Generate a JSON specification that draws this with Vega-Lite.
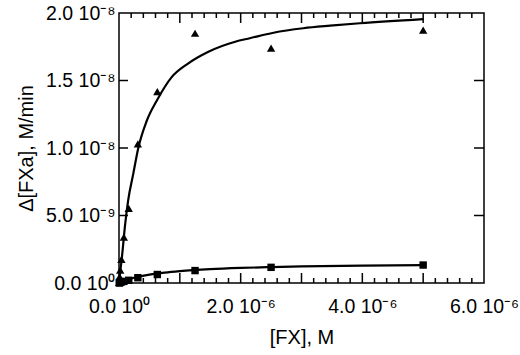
{
  "$schema": "https://vega.github.io/schema/vega-lite/v6.json",
  "autosize": "none",
  "width": 365,
  "height": 270,
  "padding": {"left": 119, "top": 13, "right": 36, "bottom": 72},
  "background": "white",
  "config": {
    "view": {"stroke": "black", "strokeWidth": 1.5},
    "axis": {
      "labelFont": "Liberation Sans", "labelFontSize": 19.5, "labelColor": "black",
      "titleFont": "Liberation Sans", "titleFontSize": 20, "titleFontWeight": "normal", "titleColor": "black",
      "grid": false, "labelOverlap": false, "labelFlush": false, "domain": false, "ticks": false, "tickSize": 0
    }
  },
  "datasets": {
    "x_minor_ticks": [
      {"fx": 0.2}, {"fx": 0.4}, {"fx": 0.6}, {"fx": 0.8}, {"fx": 1.2}, {"fx": 1.4}, {"fx": 1.6}, {"fx": 1.8},
      {"fx": 2.2}, {"fx": 2.4}, {"fx": 2.6}, {"fx": 2.8}, {"fx": 3.2}, {"fx": 3.4}, {"fx": 3.6}, {"fx": 3.8},
      {"fx": 4.2}, {"fx": 4.4}, {"fx": 4.6}, {"fx": 4.8}, {"fx": 5.2}, {"fx": 5.4}, {"fx": 5.6}, {"fx": 5.8}
    ],
    "x_major_ticks": [{"fx": 1}, {"fx": 2}, {"fx": 3}, {"fx": 4}, {"fx": 5}],
    "y_major_ticks": [{"rate": 0.5}, {"rate": 1}, {"rate": 1.5}],
    "tri_pts": [
      {"fx": 0.005, "rate": 0.005},
      {"fx": 0.01, "rate": 0.047},
      {"fx": 0.02, "rate": 0.096},
      {"fx": 0.04, "rate": 0.175},
      {"fx": 0.08, "rate": 0.34},
      {"fx": 0.16, "rate": 0.553},
      {"fx": 0.31, "rate": 1.03},
      {"fx": 0.63, "rate": 1.417},
      {"fx": 1.25, "rate": 1.85},
      {"fx": 2.5, "rate": 1.739},
      {"fx": 5.0, "rate": 1.874}
    ],
    "sq_pts": [
      {"fx": 0.005, "rate": 0.0},
      {"fx": 0.01, "rate": 0.003},
      {"fx": 0.02, "rate": 0.005},
      {"fx": 0.04, "rate": 0.008},
      {"fx": 0.08, "rate": 0.012},
      {"fx": 0.16, "rate": 0.02},
      {"fx": 0.31, "rate": 0.039},
      {"fx": 0.63, "rate": 0.063},
      {"fx": 1.25, "rate": 0.092},
      {"fx": 2.5, "rate": 0.116},
      {"fx": 5.0, "rate": 0.133}
    ],
    "tri_fit": [
      {"fx": 0, "rate": 0},
      {"fx": 0.005, "rate": 0.022},
      {"fx": 0.05, "rate": 0.2},
      {"fx": 0.1, "rate": 0.43},
      {"fx": 0.15, "rate": 0.61},
      {"fx": 0.235, "rate": 0.81},
      {"fx": 0.317, "rate": 1.0},
      {"fx": 0.455, "rate": 1.2},
      {"fx": 0.62, "rate": 1.35},
      {"fx": 0.866, "rate": 1.525},
      {"fx": 1.14, "rate": 1.627},
      {"fx": 1.47, "rate": 1.713},
      {"fx": 1.91, "rate": 1.787},
      {"fx": 2.15, "rate": 1.813},
      {"fx": 2.54, "rate": 1.854},
      {"fx": 3.03, "rate": 1.887},
      {"fx": 3.47, "rate": 1.906},
      {"fx": 3.96, "rate": 1.924},
      {"fx": 5.0, "rate": 1.955}
    ],
    "sq_fit": [
      {"fx": 0, "rate": 0},
      {"fx": 0.05, "rate": 0.0097},
      {"fx": 0.1, "rate": 0.0183},
      {"fx": 0.2, "rate": 0.0326},
      {"fx": 0.3, "rate": 0.0442},
      {"fx": 0.5, "rate": 0.0617},
      {"fx": 0.75, "rate": 0.077},
      {"fx": 1.0, "rate": 0.0879},
      {"fx": 1.5, "rate": 0.1024},
      {"fx": 2.0, "rate": 0.1115},
      {"fx": 2.5, "rate": 0.1179},
      {"fx": 3.0, "rate": 0.1225},
      {"fx": 4.0, "rate": 0.1289},
      {"fx": 5.0, "rate": 0.133}
    ]
  },
  "layer": [
    {
      "data": {"name": "tri_fit"},
      "mark": {"type": "line", "color": "black", "strokeWidth": 2.2, "interpolate": "monotone"},
      "encoding": {
        "x": {"field": "fx", "type": "quantitative", "scale": {"domain": [0, 6], "nice": false, "zero": false},
          "axis": {"orient": "bottom", "values": [0, 2, 4, 6], "labelPadding": 14,
            "labelExpr": "datum.value == 0 ? '0.0 10⁰' : format(datum.value, '.1f') + ' 10⁻⁶'",
            "title": "[FX], M", "titlePadding": 12}},
        "y": {"field": "rate", "type": "quantitative", "scale": {"domain": [0, 2], "nice": false, "zero": false},
          "axis": {"orient": "left", "values": [0, 0.5, 1, 1.5, 2], "labelPadding": 4,
            "labelExpr": "datum.value == 0 ? '0.0 10⁰' : (datum.value < 1 ? format(datum.value*10, '.1f') + ' 10⁻⁹' : format(datum.value, '.1f') + ' 10⁻⁸')",
            "title": "Δ[FXa], M/min", "titlePadding": 9}}
      }
    },
    {
      "data": {"name": "tri_pts"},
      "mark": {"type": "point", "shape": "triangle-up", "filled": true, "color": "black", "opacity": 1, "size": 70},
      "encoding": {
        "x": {"field": "fx", "type": "quantitative"},
        "y": {"field": "rate", "type": "quantitative"}
      }
    },
    {
      "data": {"name": "sq_fit"},
      "mark": {"type": "line", "color": "black", "strokeWidth": 2.2, "interpolate": "monotone"},
      "encoding": {
        "x": {"field": "fx", "type": "quantitative"},
        "y": {"field": "rate", "type": "quantitative"}
      }
    },
    {
      "data": {"name": "sq_pts"},
      "mark": {"type": "point", "shape": "square", "filled": true, "color": "black", "opacity": 1, "size": 55},
      "encoding": {
        "x": {"field": "fx", "type": "quantitative"},
        "y": {"field": "rate", "type": "quantitative"}
      }
    },
    {
      "data": {"name": "x_minor_ticks"},
      "mark": {"type": "rule", "color": "black", "strokeWidth": 1.5, "y2Offset": -5},
      "encoding": {
        "x": {"field": "fx", "type": "quantitative"},
        "y": {"datum": 0, "type": "quantitative"},
        "y2": {"datum": 0}
      }
    },
    {
      "data": {"name": "x_minor_ticks"},
      "mark": {"type": "rule", "color": "black", "strokeWidth": 1.5, "y2Offset": 5},
      "encoding": {
        "x": {"field": "fx", "type": "quantitative"},
        "y": {"datum": 2, "type": "quantitative"},
        "y2": {"datum": 2}
      }
    },
    {
      "data": {"name": "x_major_ticks"},
      "mark": {"type": "rule", "color": "black", "strokeWidth": 1.5, "y2Offset": -10},
      "encoding": {
        "x": {"field": "fx", "type": "quantitative"},
        "y": {"datum": 0, "type": "quantitative"},
        "y2": {"datum": 0}
      }
    },
    {
      "data": {"name": "x_major_ticks"},
      "mark": {"type": "rule", "color": "black", "strokeWidth": 1.5, "y2Offset": 10},
      "encoding": {
        "x": {"field": "fx", "type": "quantitative"},
        "y": {"datum": 2, "type": "quantitative"},
        "y2": {"datum": 2}
      }
    },
    {
      "data": {"name": "y_major_ticks"},
      "mark": {"type": "rule", "color": "black", "strokeWidth": 1.5, "x2Offset": 9},
      "encoding": {
        "y": {"field": "rate", "type": "quantitative"},
        "x": {"datum": 0, "type": "quantitative"},
        "x2": {"datum": 0}
      }
    },
    {
      "data": {"name": "y_major_ticks"},
      "mark": {"type": "rule", "color": "black", "strokeWidth": 1.5, "x2Offset": -10},
      "encoding": {
        "y": {"field": "rate", "type": "quantitative"},
        "x": {"datum": 6, "type": "quantitative"},
        "x2": {"datum": 6}
      }
    }
  ]
}
